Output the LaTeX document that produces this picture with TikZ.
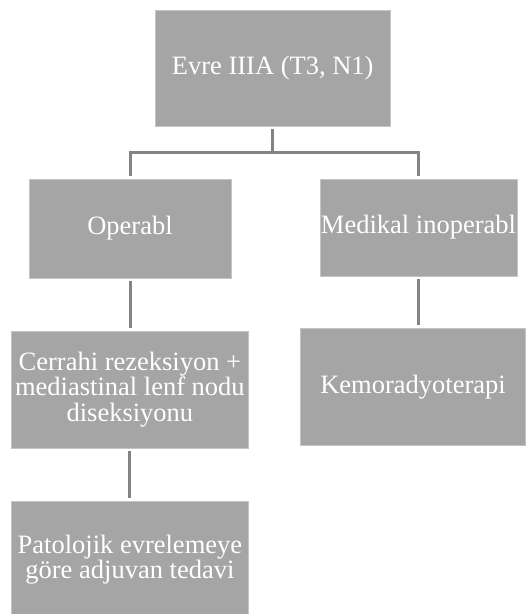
\documentclass[tikz,border=0pt]{standalone}
\usepackage{fontspec}
\setmainfont{Liberation Serif}
\definecolor{boxgray}{HTML}{A5A5A5}
\definecolor{boxedge}{HTML}{C4C4C4}
\definecolor{linegray}{HTML}{848484}
\begin{document}
\begin{tikzpicture}[x=1pt,y=-1pt,
  stage/.style={rectangle, fill=boxgray, draw=boxedge, line width=0.8pt,
    inner sep=0pt, align=center, text=white,
    font=\fontsize{26.5}{25.5}\selectfont},
  conn/.style={draw=linegray, line width=3pt},
  gap/.style={shorten <=3pt, shorten >=3pt},
]
\useasboundingbox (0,0) rectangle (526,614);
\begin{scope}
\clip (0,0) rectangle (526,614);

% stage boxes
\node[stage, minimum width=235.5pt, minimum height=116pt] (top) at (272.7,68) {Evre IIIA (T3, N1)};
\node[stage, minimum width=202pt, minimum height=99pt] (op) at (130,228.5) {Operabl};
\node[stage, minimum width=197pt, minimum height=97pt] (med) at (418.5,227.5) {Medikal inoperabl};
\node[stage, minimum width=236.3pt, minimum height=117pt] (cer) at (129.9,389.5) {Cerrahi rezeksiyon +\\mediastinal lenf nodu\\diseksiyonu};
\node[stage, minimum width=225pt, minimum height=116.5pt] (kemo) at (413,386.8) {Kemoradyoterapi};
\node[stage, minimum width=236.3pt, minimum height=117pt] (pat) at (129.9,559.5) {Patolojik evrelemeye\\göre adjuvan tedavi};

% branching connector below the top box
\coordinate (j) at (272.7,152.5);
\draw[conn] ([yshift=-3pt]top.south) -- (j);
\draw[conn] ([yshift=3pt]op.north) |- (j) -| ([yshift=3pt]med.north);

% straight vertical connectors
\draw[conn, gap] (op.south) -- (op.south |- cer.north);
\draw[conn, gap] (med.south) -- (med.south |- kemo.north);
\draw[conn, gap] (cer.south) -- (cer.south |- pat.north);
\end{scope}
\end{tikzpicture}
\end{document}
